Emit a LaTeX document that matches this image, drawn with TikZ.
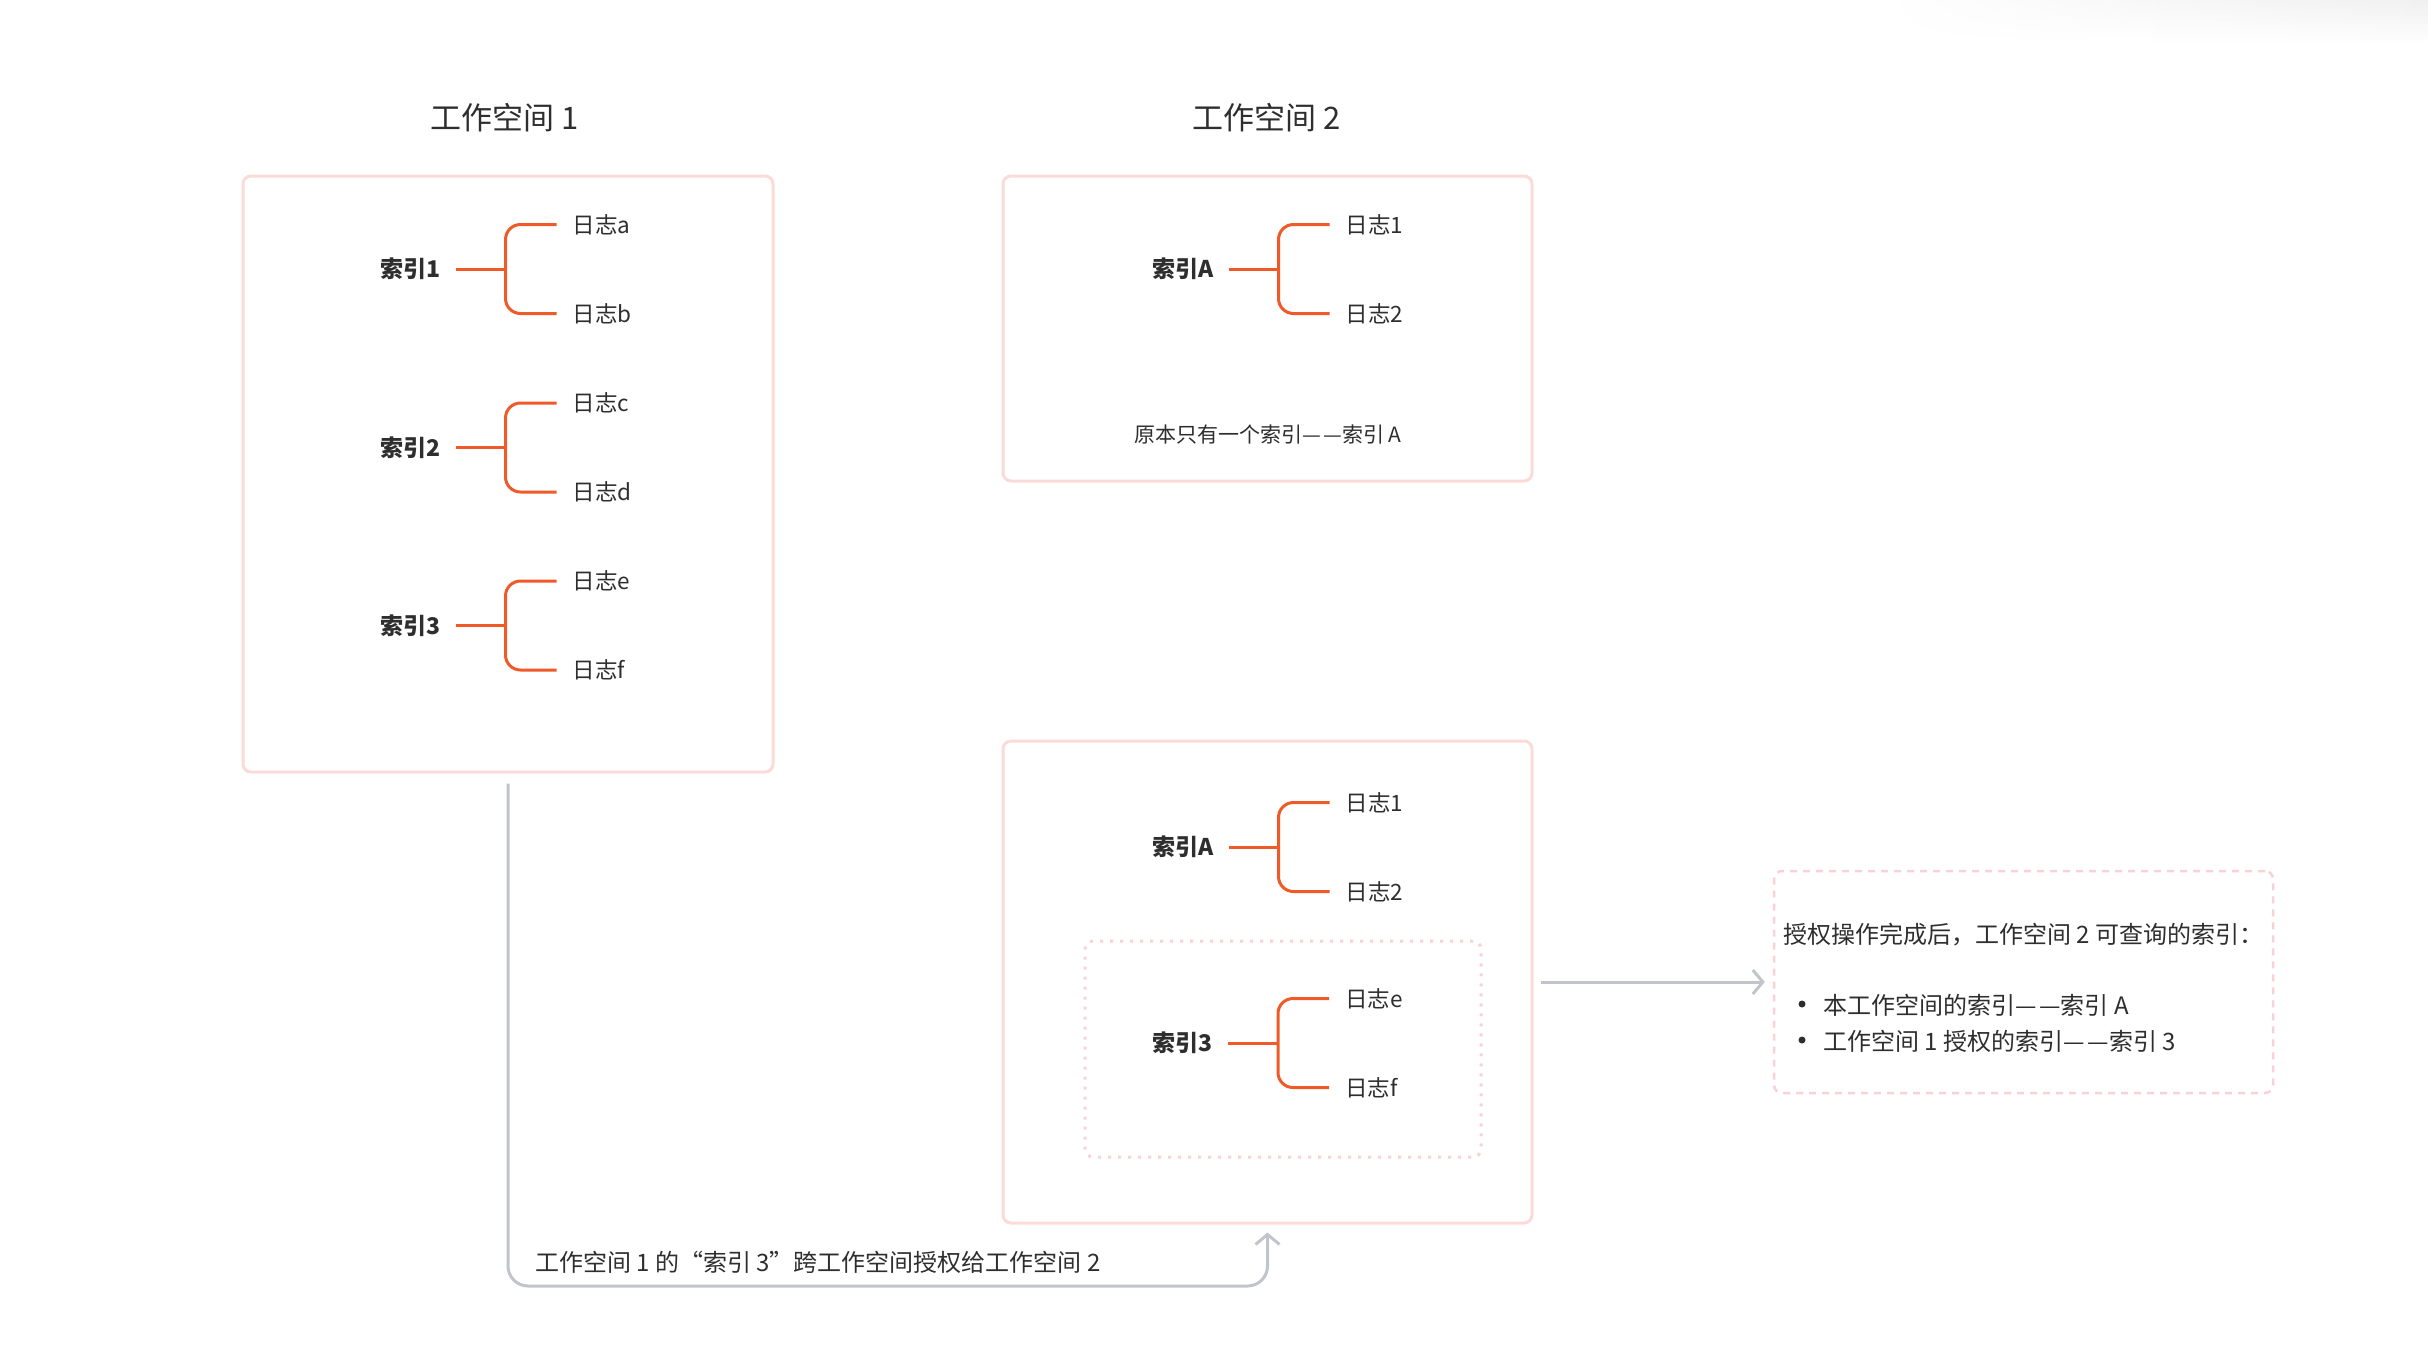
\documentclass[tikz,border=0pt]{standalone}
\usepackage{fontspec}
\newfontfamily\cjk{Noto Sans CJK SC}
\usetikzlibrary{arrows.meta,fadings}
\definecolor{boxpink}{HTML}{FADBD8}
\definecolor{dotpink}{HTML}{F8D2D4}
\definecolor{branchor}{HTML}{F05A28}
\definecolor{conngray}{HTML}{C1C4CA}
\definecolor{txt}{HTML}{2E2E2E}
\newcommand\dd{—\kern0.12em—}
\newcommand\logtree[6]{%
  \coordinate (#1j) at (#3,#4);
  \node[idx, anchor=east] (#1i) at ({#3-65},{#4}) {#2};
  \node[leaf, anchor=west] (#1a) at ({#3+67},{#4-44.5}) {#5};
  \node[leaf, anchor=west] (#1b) at ({#3+67},{#4+44.5}) {#6};
  \draw[branch, shorten <=15pt] (#1i.east) -- (#1j);
  \draw[branch, rounded corners=15pt, shorten <=16pt, shorten >=16pt] (#1a.west) -| (#1j) |- (#1b.west);
}
\begin{document}
\begin{tikzpicture}[x=1pt,y=-1pt,
  wsbox/.style={draw=boxpink, line width=3pt, rounded corners=8pt, inner sep=0pt, fill=white},
  dotbox/.style={draw=dotpink, line width=3pt, dash pattern=on 3pt off 7pt, rounded corners=8pt, inner sep=0pt},
  notebox/.style={draw=dotpink, line width=2.5pt, dash pattern=on 7pt off 6pt, rounded corners=8pt, inner sep=0pt},
  branch/.style={draw=branchor, line width=3pt},
  conn/.style={draw=conngray, line width=3pt},
  tip/.style={-{Straight Barb[length=10pt,width=24pt]}},
  idx/.style={inner sep=0pt, text=txt, font=\cjk\bfseries\fontsize{23}{27}\selectfont},
  leaf/.style={inner sep=0pt, text=txt, font=\cjk\fontsize{22.5}{27}\selectfont},
  ttl/.style={inner sep=0pt, text=txt, font=\cjk\fontsize{31}{36}\selectfont},
  small/.style={inner sep=0pt, text=txt, font=\cjk\fontsize{21}{25}\selectfont},
  body/.style={inner sep=0pt, text=txt, font=\cjk\fontsize{24}{28}\selectfont},
  bullet/.style={circle, fill=txt, inner sep=0pt, minimum size=7pt}
]
\useasboundingbox (0,0) rectangle (2428,1358);
\shade[top color=black!6, bottom color=white, path fading=west] (1880,0) rectangle (2428,45);

% titles
\node[ttl] (t1) at (505,118) {工作空间 1};
\node[ttl] (t2) at (1267,118) {工作空间 2};

% workspace boxes
\node[wsbox, minimum width=530pt, minimum height=596pt] (ws1) at (508,474) {};
\node[wsbox, minimum width=529pt, minimum height=305pt] (ws2) at (1267.5,328.5) {};
\node[wsbox, minimum width=529pt, minimum height=482pt] (ws3) at (1267.5,982) {};
\node[dotbox, minimum width=396pt, minimum height=216pt] (shared) at (1283,1049) {};
\node[notebox, minimum width=499pt, minimum height=222pt] (note) at (2023.5,982) {};

% trees in workspace 1
\logtree{p}{索引1}{505.5}{269}{日志a}{日志b}
\logtree{q}{索引2}{505.5}{447.5}{日志c}{日志d}
\logtree{r}{索引3}{505.5}{625.5}{日志e}{日志f}

% tree in workspace 2 (before)
\logtree{s}{索引A}{1278.5}{269}{日志1}{日志2}
\node[small] (orig) at (1268,435) {原本只有一个索引\dd 索引 A};

% trees in workspace 2 (after)
\logtree{u}{索引A}{1278.5}{847}{日志1}{日志2}
\logtree{v}{索引3}{1278}{1043}{日志e}{日志f}

% note content
\node[body, anchor=west] (nt) at (1783,935) {授权操作完成后，工作空间 2 可查询的索引：};
\node[bullet] (b1) at (1802,1004) {};
\node[bullet] (b2) at (1802,1040) {};
\node[body, anchor=west] (i1) at (1823,1005) {本工作空间的索引\dd 索引 A};
\node[body, anchor=west] (i2) at (1823,1041) {工作空间 1 授权的索引\dd 索引 3};

% connectors
\coordinate (lowc) at (1267.5,1286);
\draw[conn, tip, rounded corners=20pt, shorten <=10pt, shorten >=8pt] (ws1.south) |- (lowc) -- (ws3.south);
\node[body, anchor=west] (lbl) at (535,1262) {工作空间 1 的“索引 3”跨工作空间授权给工作空间 2};
\draw[conn, tip, shorten <=7pt, shorten >=8pt] (ws3.east) -- (note.west);
\end{tikzpicture}
\end{document}
